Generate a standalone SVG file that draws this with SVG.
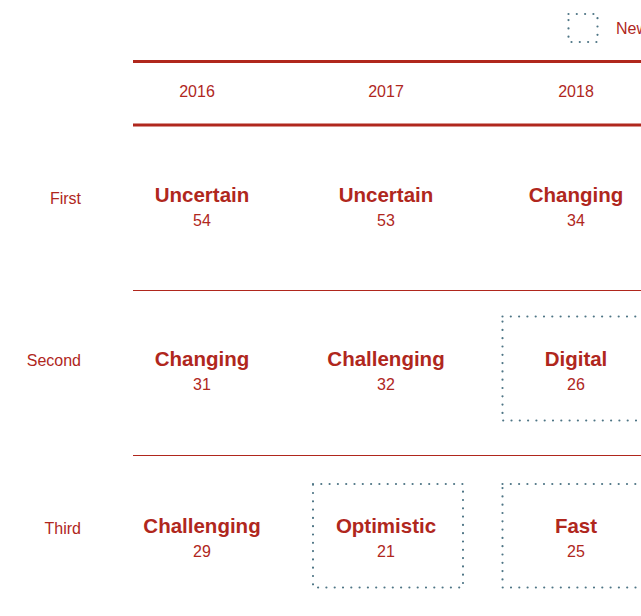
<svg xmlns="http://www.w3.org/2000/svg" width="641" height="616" viewBox="0 0 641 616">
<style>
.t{font-family:"Liberation Sans",Arial,sans-serif;fill:#b0271d}
.yr{font-size:16px;text-anchor:middle}
.row{font-size:16px;text-anchor:end}
.w{font-size:20.5px;font-weight:bold;text-anchor:middle}
.n{font-size:16px;text-anchor:middle}
.thick{stroke:#b0271d;stroke-width:3}
.thin{stroke:#b0271d;stroke-width:1.2}
.dot{fill:none;stroke:#4e7585;stroke-width:2.2;stroke-linecap:round;stroke-dasharray:0 8.3}
</style>
<rect width="641" height="616" fill="#fff"/>
<g id="legend">
<rect class="dot" x="568.5" y="14" width="29" height="28"/>
<text class="t" x="616" y="34" font-size="16">New</text>
</g>
<g id="grid">
<line class="thick" x1="133" y1="61.5" x2="641" y2="61.5"/>
<line class="thick" x1="133" y1="125" x2="641" y2="125"/>
<line class="thin" x1="133" y1="290.5" x2="641" y2="290.5"/>
<line class="thin" x1="133" y1="455.5" x2="641" y2="455.5"/>
</g>
<g id="years">
<text class="t yr" x="197" y="97">2016</text>
<text class="t yr" x="386" y="97">2017</text>
<text class="t yr" x="576" y="97">2018</text>
</g>
<g id="rows">
<text class="t row" x="81" y="204">First</text>
<text class="t row" x="81" y="366">Second</text>
<text class="t row" x="81" y="534">Third</text>
</g>
<g id="n-2016-1"><text class="t w" x="202" y="202">Uncertain</text><text class="t n" x="202" y="226">54</text></g>
<g id="n-2017-1"><text class="t w" x="386" y="202">Uncertain</text><text class="t n" x="386" y="226">53</text></g>
<g id="n-2018-1"><text class="t w" x="576" y="202">Changing</text><text class="t n" x="576" y="226">34</text></g>
<g id="n-2016-2"><text class="t w" x="202" y="366">Changing</text><text class="t n" x="202" y="390">31</text></g>
<g id="n-2017-2"><text class="t w" x="386" y="366">Challenging</text><text class="t n" x="386" y="390">32</text></g>
<g id="n-2018-2"><rect class="dot" x="502.5" y="316.5" width="160" height="104"/><text class="t w" x="576" y="366">Digital</text><text class="t n" x="576" y="390">26</text></g>
<g id="n-2016-3"><text class="t w" x="202" y="533">Challenging</text><text class="t n" x="202" y="557">29</text></g>
<g id="n-2017-3"><rect class="dot" x="313" y="484" width="150" height="103.5"/><text class="t w" x="386" y="533">Optimistic</text><text class="t n" x="386" y="557">21</text></g>
<g id="n-2018-3"><rect class="dot" x="502.5" y="484" width="160" height="103.5"/><text class="t w" x="576" y="533">Fast</text><text class="t n" x="576" y="557">25</text></g>
</svg>
